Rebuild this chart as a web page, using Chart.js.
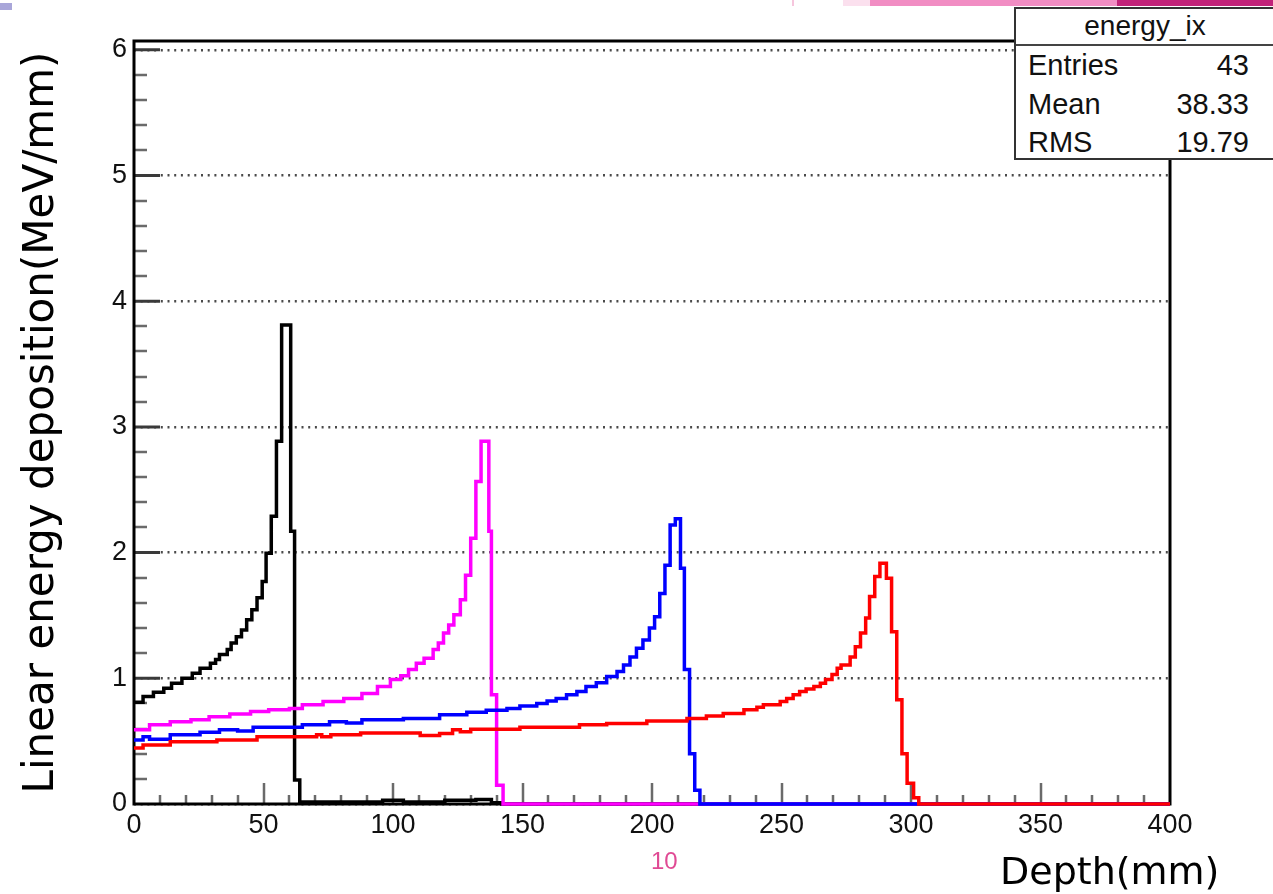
<!DOCTYPE html>
<html lang="en">
<head>
    <meta charset="UTF-8">
    <title>energy_ix</title>
    <script src="https://cdn.jsdelivr.net/npm/chart.js"></script>
    <style>
        html, body { margin: 0; padding: 0; background: #fff; overflow: hidden; }
        #wrap { position: relative; width: 1273px; height: 894px; overflow: hidden; }
        #chart { position: absolute; left: 0; top: 0; }
        .strip { position: absolute; top: 0; height: 6px; }
        #stats {
            position: absolute; left: 1014px; top: 7px; width: 300px; height: 149px;
            border: 2px solid #333; background: #fff;
            font-family: "Liberation Sans", Arial, sans-serif; color: #111;
        }
        #stats .head {
            position: absolute; left: 0; top: 0; width: 258px; height: 35px;
            border-bottom: 2px solid #444; text-align: center;
            font-size: 28px; line-height: 33px;
        }
        #stats .row { position: absolute; left: 0; width: 258px; height: 33px; font-size: 29px; line-height: 33px; }
        #stats .row .k { position: absolute; left: 12px; }
        #stats .row .v { position: absolute; right: 25px; }
        #xTitle {
            position: absolute; left: 1000px; top: 849px;
            font-family: "DejaVu Sans", sans-serif; font-size: 38px; line-height: 44px; color: #000;
        }
        #pageNo {
            position: absolute; left: 651px; top: 847px;
            font-family: "Liberation Sans", sans-serif; font-size: 24px; color: #e04a94;
        }
    </style>
</head>
<body>
<div id="wrap">
    <canvas id="chart" width="1273" height="894"></canvas>
    <div class="strip" style="left:0;top:3px;width:12px;height:7px;background:#a9a6d9"></div>
    <div class="strip" style="left:792px;width:2px;background:#f6c6dd"></div>
    <div class="strip" style="left:843px;width:30px;background:#fbe0ee"></div>
    <div class="strip" style="left:870px;width:250px;background:#f18dc3"></div>
    <div class="strip" style="left:1117px;width:160px;background:#c12379"></div>
    <div id="stats"></div>
    <div id="xTitle">Depth(mm)</div>
    <div id="pageNo">10</div>
</div>

<script>
    // depth (mm) where each bin run starts, and its deposition (MeV/mm)
    const blackDepth = [0, 3.5, 7.5, 11.5, 14.5, 18.5, 22.5, 25.5, 29.5, 31.5, 33, 36, 37.5, 39.5, 41.5,
        43.5, 45.5, 47.5, 49.5, 51, 53, 55, 57, 60.5, 62, 64, 96, 104, 120, 132, 138, 142, 400];
    const blackDep = [0.81, 0.855, 0.89, 0.92, 0.96, 1.0, 1.04, 1.08, 1.12, 1.15, 1.19, 1.23, 1.28, 1.33, 1.385,
        1.465, 1.545, 1.64, 1.77, 1.995, 2.29, 2.885, 3.81, 2.17, 0.19, 0.015, 0.03, 0.015, 0.03, 0.035, 0.01, 0, 0];

    const magentaDepth = [0, 6, 14, 22, 29, 37, 45, 52, 60, 65, 73, 81, 88, 94, 99, 103, 106, 109, 112, 115.5,
        117.5, 119.5, 121.5, 123.5, 126, 128, 130, 132, 134, 137, 138, 140, 142.5, 400];
    const magentaDep = [0.59, 0.63, 0.655, 0.67, 0.695, 0.715, 0.735, 0.75, 0.76, 0.79, 0.815, 0.84, 0.88, 0.935,
        0.99, 1.02, 1.07, 1.12, 1.16, 1.23, 1.28, 1.36, 1.425, 1.505, 1.625, 1.82, 2.115, 2.565, 2.885, 2.17,
        0.87, 0.15, 0, 0];

    const blueDepth = [0, 3.5, 6, 14, 25.5, 33, 40, 46, 65, 75.5, 82, 88, 104, 118, 128.5, 136, 144, 149, 155.5,
        159.5, 163, 167, 171, 174.5, 178.5, 182.5, 186.5, 189, 191.5, 194, 196.5, 199, 201, 203, 205, 207, 209,
        211, 212.5, 214.5, 216.5, 218.5, 400];
    const blueDep = [0.51, 0.535, 0.515, 0.55, 0.57, 0.59, 0.58, 0.61, 0.63, 0.655, 0.645, 0.67, 0.68, 0.71, 0.73,
        0.745, 0.76, 0.78, 0.80, 0.82, 0.84, 0.87, 0.895, 0.935, 0.965, 1.015, 1.055, 1.105, 1.17, 1.24, 1.305,
        1.40, 1.49, 1.675, 1.9, 2.22, 2.27, 1.875, 1.07, 0.40, 0.11, 0, 0];

    const redDepth = [0, 3.5, 14, 32, 47.5, 70.5, 72.5, 76, 87.5, 110.5, 118, 123, 126, 130, 149, 172, 182.5, 198,
        213.5, 221, 227.5, 235.5, 240.5, 243, 249.5, 252, 254.5, 257, 259.5, 262.5, 265, 267, 269.5, 271.5, 273,
        276.5, 278.5, 280.5, 282.5, 284, 286, 288, 290.5, 292.5, 294.5, 296.5, 298.5, 301, 303, 400];
    const redDep = [0.445, 0.47, 0.495, 0.51, 0.535, 0.55, 0.535, 0.55, 0.565, 0.545, 0.56, 0.59, 0.575, 0.595,
        0.61, 0.63, 0.64, 0.66, 0.68, 0.70, 0.72, 0.75, 0.77, 0.79, 0.815, 0.84, 0.87, 0.895, 0.915, 0.935, 0.96,
        0.99, 1.03, 1.08, 1.105, 1.17, 1.25, 1.36, 1.48, 1.65, 1.81, 1.915, 1.795, 1.37, 0.83, 0.40, 0.165, 0.05,
        0, 0];

    const xTicks = [0, 50, 100, 150, 200, 250, 300, 350, 400];
    const yTicks = [0, 1, 2, 3, 4, 5, 6];

    const statsTitle = "energy_ix";
    const statsKeys = ["Entries", "Mean", "RMS"];
    const statsVals = ["43", "38.33", "19.79"];

    // stats box
    const stats = document.getElementById("stats");
    let html = '<div class="head">' + statsTitle + '</div>';
    statsKeys.forEach((k, i) => {
        html += '<div class="row" style="top:' + (40 + i * 38.5) + 'px"><span class="k">' + k +
            '</span><span class="v">' + statsVals[i] + '</span></div>';
    });
    stats.innerHTML = html;

    function toPoints(depth, dep) {
        return depth.map((x, i) => ({ x: x, y: dep[i] }));
    }

    function histo(label, depth, dep, color, order) {
        return {
            label: label,
            data: toPoints(depth, dep),
            borderColor: color,
            borderWidth: 3.5,
            stepped: "before",
            pointRadius: 0,
            fill: false,
            order: order,
            clip: 4
        };
    }

    // ROOT-like frame with inward ticks
    const frameTicks = {
        id: "frameTicks",
        beforeDatasetsDraw(chart) {
            const { ctx, chartArea: a, scales } = chart;
            const x = scales.x, y = scales.y;
            ctx.save();
            ctx.lineCap = "butt";

            ctx.strokeStyle = "#6a6a6a";
            ctx.lineWidth = 2.5;
            ctx.beginPath();
            for (let v = 10; v < 400; v += 10) {
                const px = Math.round(x.getPixelForValue(v));
                const len = v % 50 === 0 ? 21 : 9;
                ctx.moveTo(px, a.bottom);
                ctx.lineTo(px, a.bottom - len);
            }
            for (let k = 1; k < 30; k++) {
                if (k % 5 === 0) continue;
                const py = Math.round(y.getPixelForValue(k / 5));
                ctx.moveTo(a.left, py);
                ctx.lineTo(a.left + 13, py);
            }
            ctx.stroke();

            ctx.strokeStyle = "#3a3a3a";
            ctx.lineWidth = 3;
            ctx.beginPath();
            yTicks.slice(1).forEach(v => {
                const py = y.getPixelForValue(v);
                ctx.moveTo(a.left, py);
                ctx.lineTo(a.left + 26, py);
            });
            ctx.stroke();

            ctx.strokeStyle = "#000";
            ctx.lineWidth = 3;
            ctx.strokeRect(a.left, a.top, a.right - a.left, a.bottom - a.top);
            ctx.restore();
        }
    };

    const tickFont = { family: "'Liberation Sans', sans-serif", size: 27 };

    new Chart(document.getElementById("chart"), {
        type: "line",
        data: {
            datasets: [
                histo("black", blackDepth, blackDep, "#000000", 3),
                histo("magenta", magentaDepth, magentaDep, "#ff00ff", 2),
                histo("blue", blueDepth, blueDep, "#0000ff", 1),
                histo("red", redDepth, redDep, "#ff0000", 0)
            ]
        },
        options: {
            responsive: false,
            animation: false,
            layout: { padding: { top: 41, right: 103, left: 0, bottom: 0 } },
            plugins: { legend: { display: false }, tooltip: { enabled: false } },
            scales: {
                x: {
                    type: "linear",
                    min: 0,
                    max: 400,
                    afterBuildTicks: s => { s.ticks = xTicks.map(v => ({ value: v })); },
                    ticks: { color: "#111", font: tickFont, padding: 5, maxRotation: 0, autoSkip: false },
                    grid: { display: false, drawTicks: false },
                    border: { display: false },
                    afterFit: s => { s.height = 90; }
                },
                y: {
                    type: "linear",
                    min: 0,
                    max: 6.07,
                    afterBuildTicks: s => { s.ticks = yTicks.map(v => ({ value: v })); },
                    ticks: { color: "#111", font: tickFont, padding: 7, autoSkip: false },
                    grid: { color: "#4a4a4a", lineWidth: 2.5, drawTicks: false },
                    border: { display: false, dash: [2, 4.7] },
                    title: {
                        display: true,
                        text: "Linear energy deposition(MeV/mm)",
                        color: "#000",
                        font: { family: "'DejaVu Sans', sans-serif", size: 42 },
                        padding: { top: 17, bottom: 0 }
                    },
                    afterFit: s => { s.width = 134; }
                }
            }
        },
        plugins: [frameTicks]
    });
</script>
</body>
</html>
